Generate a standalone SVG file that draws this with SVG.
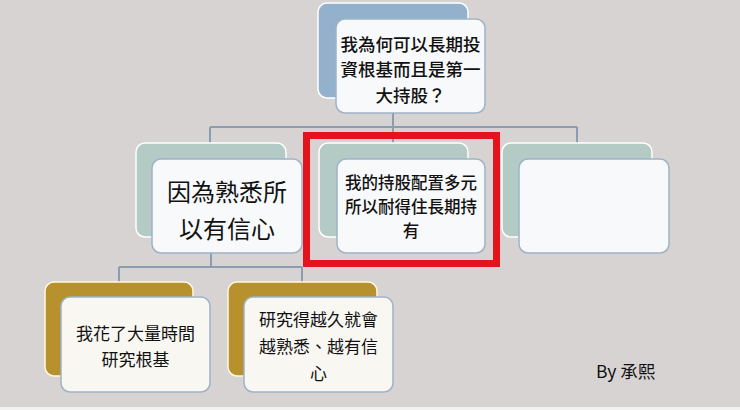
<svg xmlns="http://www.w3.org/2000/svg" width="740" height="410" viewBox="0 0 740 410">
<defs>
<style>
.bg{fill:#d6d3d2}
.back-blue{fill:#93b1cc;stroke:#ffffff;stroke-width:1.5}
.back-green{fill:#b3cbc4;stroke:#ffffff;stroke-width:1.5}
.back-gold{fill:#b8912f;stroke:#fff8e0;stroke-width:1.5}
.front{fill:#f8f9fa;stroke:#9fb2c6;stroke-width:1.5}
.front-cream{fill:#f8f7f2;stroke:#9fb2c6;stroke-width:1.5}
.conn{fill:none;stroke:#8b9db3;stroke-width:2}
.t{font-family:"Noto Sans CJK TC","Noto Sans CJK SC",sans-serif;fill:#111;text-anchor:middle;dominant-baseline:central}
</style>
</defs>
<rect class="bg" x="0" y="0" width="740" height="410"/>
<rect x="0" y="407" width="740" height="3" fill="#f2f2f2"/>

<g id="connectors">
<path class="conn" d="M393,113 V127 M210,127 H577 M210,127 V143 M393,127 V143 M577,127 V143"/>
<path class="conn" d="M211,253 V267 M119,267 H302 M119,267 V282 M302,267 V282"/>
</g>

<g id="root">
<rect class="back-blue" x="318" y="3" width="150" height="95" rx="9"/>
<rect class="front" x="336" y="19" width="149" height="94" rx="9"/>
<text class="t" font-size="17.5" font-weight="500" x="410.5" y="43">我為何可以長期投</text>
<text class="t" font-size="17.5" font-weight="500" x="410.5" y="68">資根基而且是第一</text>
<text class="t" font-size="17.5" font-weight="500" x="410.5" y="94">大持股？</text>
</g>

<g id="node-familiar">
<rect class="back-green" x="136" y="143" width="150" height="94" rx="9"/>
<rect class="front" x="152" y="159" width="150" height="94" rx="9"/>
<text class="t" font-size="24" x="227" y="190">因為熟悉所</text>
<text class="t" font-size="24" x="227" y="227">以有信心</text>
</g>

<g id="node-diversified">
<rect class="back-green" x="319" y="143" width="149" height="94" rx="9"/>
<rect class="front" x="337" y="159" width="148" height="94" rx="9"/>
<text class="t" font-size="16.5" font-weight="500" x="411" y="182">我的持股配置多元</text>
<text class="t" font-size="16.5" font-weight="500" x="411" y="206">所以耐得住長期持</text>
<text class="t" font-size="16.5" font-weight="500" x="411" y="230">有</text>
</g>

<g id="highlight">
<rect x="306.5" y="135.5" width="190" height="128" fill="none" stroke="#e3141c" stroke-width="7"/>
</g>

<g id="node-empty">
<rect class="back-green" x="502" y="143" width="150" height="94" rx="9"/>
<rect class="front" x="519" y="159" width="150" height="94" rx="9"/>
</g>

<g id="node-research">
<rect class="back-gold" x="45" y="282" width="148" height="94" rx="9"/>
<rect class="front-cream" x="61" y="297" width="149" height="95" rx="9"/>
<text class="t" font-size="17" x="135.5" y="332">我花了大量時間</text>
<text class="t" font-size="17" x="135.5" y="358">研究根基</text>
</g>

<g id="node-longer">
<rect class="back-gold" x="228" y="282" width="149" height="94" rx="9"/>
<rect class="front-cream" x="244" y="297" width="149" height="95" rx="9"/>
<text class="t" font-size="17" x="318.5" y="318">研究得越久就會</text>
<text class="t" font-size="17" x="318.5" y="345">越熟悉、越有信</text>
<text class="t" font-size="17" x="318.5" y="372">心</text>
</g>

<text x="596" y="370" font-family="'Noto Sans CJK TC','Noto Sans CJK SC',sans-serif" font-size="17.5" fill="#111" dominant-baseline="central">By 承熙</text>
</svg>
